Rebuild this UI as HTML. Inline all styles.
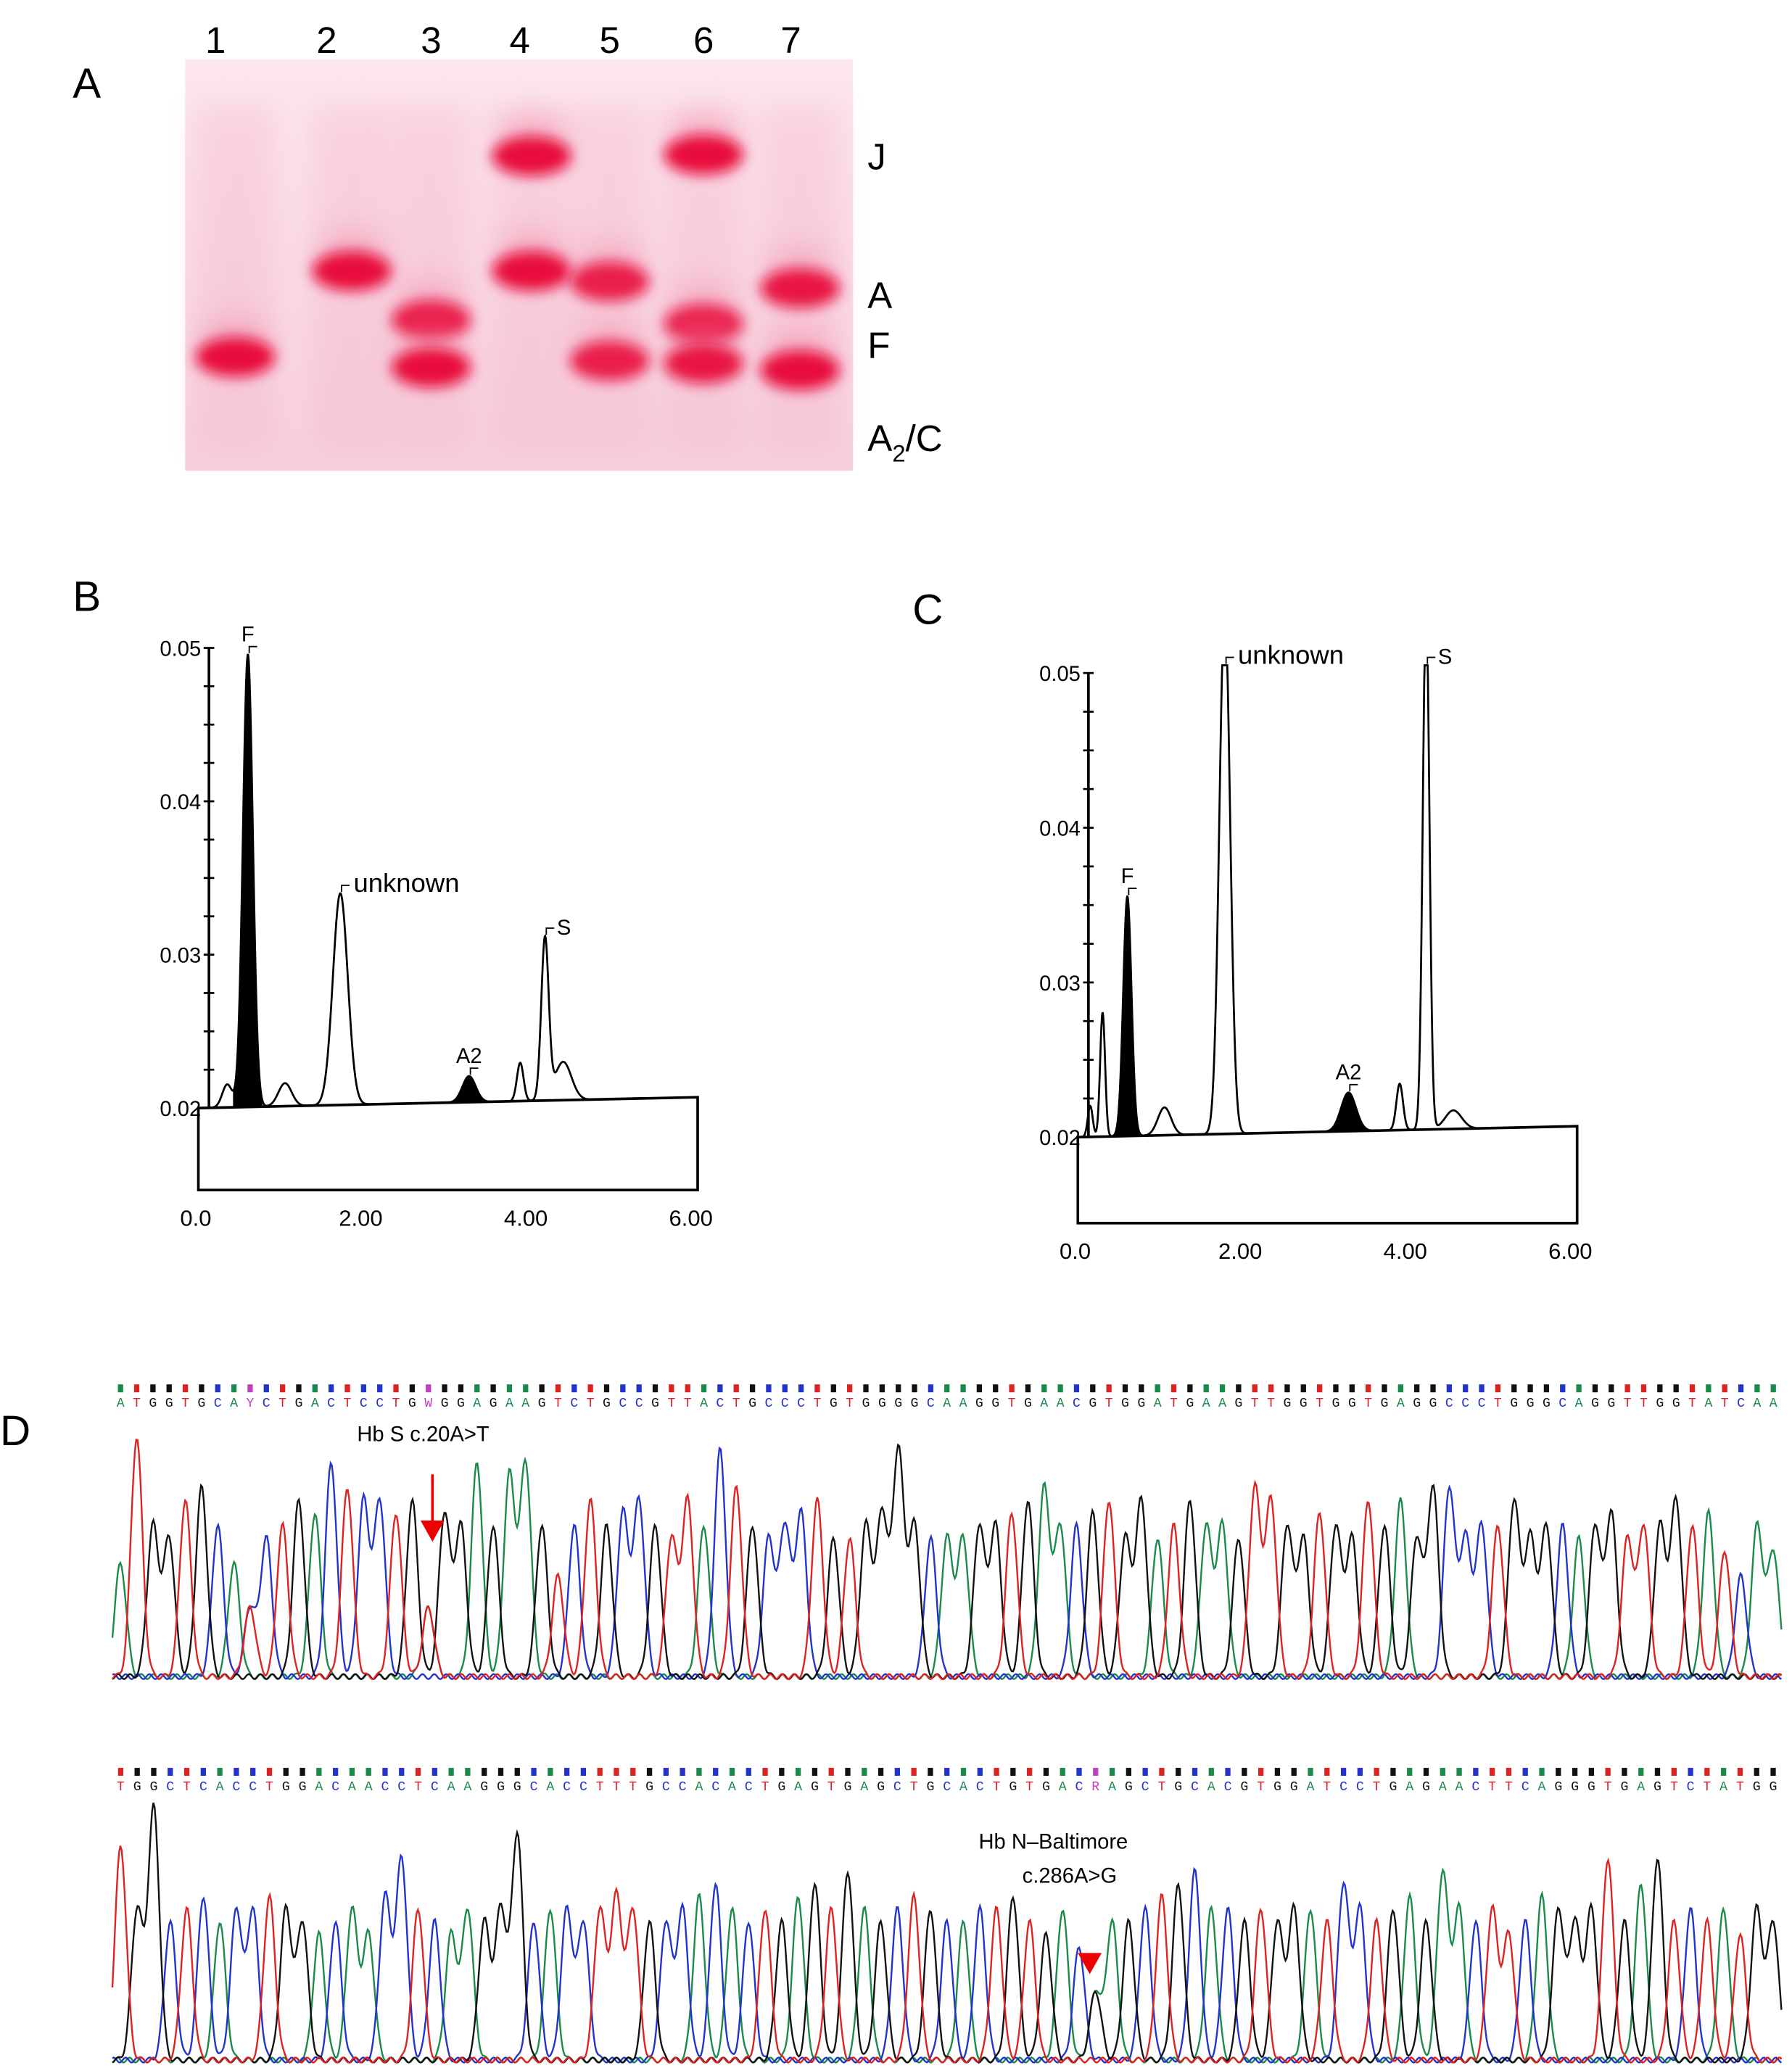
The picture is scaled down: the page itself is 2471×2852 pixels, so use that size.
<!DOCTYPE html>
<html><head><meta charset="utf-8"><style>
html,body{margin:0;padding:0;background:#fff}
svg{display:block;font-family:"Liberation Sans",sans-serif}
</style></head><body>
<svg id="fig" width="2471" height="2852" viewBox="0 0 1355 1564" preserveAspectRatio="none" xmlns="http://www.w3.org/2000/svg">
<defs>
<filter id="blur" x="-50%" y="-50%" width="200%" height="200%"><feGaussianBlur stdDeviation="5"/></filter>
<filter id="blur2" x="-50%" y="-50%" width="200%" height="200%"><feGaussianBlur stdDeviation="10"/></filter>
<linearGradient id="gelbg" x1="0" y1="0" x2="0" y2="1"><stop offset="0" stop-color="#fce6ee"/><stop offset="1" stop-color="#f7cfdd"/></linearGradient>
</defs>
<rect width="1355" height="1564" fill="#fff"/>
<!-- Panel A -->
<text x="55" y="74" font-size="32">A</text>
<g id="gel">
<rect x="140" y="45" width="505" height="311" fill="url(#gelbg)"/>
</g>
<g id="lanes" font-size="28" text-anchor="middle"></g>
<g font-size="28">
<text x="656" y="128">J</text>
<text x="656" y="233">A</text>
<text x="656" y="271">F</text>
<text x="656" y="341">A<tspan font-size="18" dy="8">2</tspan><tspan dy="-8">/C</tspan></text>
</g>
<!-- Panel B / C -->
<text x="55" y="462" font-size="32">B</text>
<text x="690" y="472" font-size="32">C</text>
<g id="chartB"></g>
<g id="chartC"></g>
<!-- Panel D -->
<text x="0" y="1093" font-size="32">D</text>
<g id="seq1"></g>
<g id="seq2"></g>
<g font-size="16">
<text x="270" y="1090">Hb  S  c.20A&gt;T</text>
<line x1="327" y1="1115" x2="327" y2="1150" stroke="#e00" stroke-width="2"/>
<polygon points="318,1150 336,1150 327,1166" fill="#e00"/>
<text x="740" y="1398">Hb  N–Baltimore</text>
<text x="773" y="1424">c.286A&gt;G</text>
<polygon points="815,1477 833,1477 824,1493" fill="#e00"/>
</g>
</svg>
<script>
const NS="http://www.w3.org/2000/svg";
function mk(tag,attrs,parent){const e=document.createElementNS(NS,tag);for(const k in attrs)e.setAttribute(k,attrs[k]);parent.appendChild(e);return e;}

// ---------- Gel data ----------
const laneNames=["1","2","3","4","5","6","7"];
const laneX=[178,266,326,402,461,532,605];
const laneLabelX=[163,247,326,393,461,532,598];
const bandLane=[0,1,2,2,3,3,4,4,5,5,5,6,6];
const bandY=[270,205,242,278,118,205,213,273,117,245,275,218,280];
const bandI=[1,1,0.9,1,1,1,0.9,0.9,1,0.9,0.95,0.95,1];
const gel=document.getElementById('gel');
const lanes=document.getElementById('lanes');
laneNames.forEach((n,i)=>{
  const t=mk('text',{x:laneLabelX[i],y:40},lanes);t.textContent=n;
  
  
  const s=mk('rect',{x:laneX[i]-30,y:80,width:60,height:260,fill:'#f3aec4',opacity:0.3,filter:'url(#blur2)'},gel);
  
  
});
bandY.forEach((y,i)=>{
  const x=laneX[bandLane[i]];
  const h=mk('ellipse',{cx:x,cy:y-14,rx:26,ry:18,fill:'#f07a9a',opacity:0.35*bandI[i],filter:'url(#blur2)'},gel);
  
  
  const b=mk('ellipse',{cx:x,cy:y,rx:30,ry:15,fill:'#e8103c',opacity:bandI[i],filter:'url(#blur)'},gel);
  
  
});

// ---------- Chromatograms ----------
const ticksX=[0,2,4,6];
const tickXLabels=["0.0","2.00","4.00","6.00"];
const ticksY=[0.02,0.03,0.04,0.05];
const tickYLabels=["0.02","0.03","0.04","0.05"];
const bPos=[0.35,0.6,1.05,1.72,3.28,3.9,4.2,4.42];
const bHeight=[0.0015,0.0295,0.0015,0.0138,0.0017,0.0025,0.0105,0.0025];
const bWidth=[0.06,0.06,0.08,0.09,0.08,0.04,0.045,0.1];
const bFilled=[0,1,0,0,1,0,0,0];
const bLabels=[["F",1],["unknown",3],["A2",4],["S",6]];
const cPos=[0.15,0.3,0.6,1.05,1.78,3.28,3.9,4.22,4.55];
const cHeight=[0.002,0.008,0.0155,0.0018,0.034,0.0025,0.003,0.034,0.0012];
const cWidth=[0.03,0.03,0.05,0.08,0.065,0.09,0.04,0.04,0.1];
const cFilled=[0,0,1,0,0,1,0,0,0];
const cLabels=[["F",2],["unknown",4],["A2",5],["S",7]];

function chrom(g,ox,sx,y02,sy,boxBottom,pos,hgt,wid,fill,labels,endT){
  const X=t=>ox+t*sx, Y=v=>y02-(v-0.02)*sy;
  const base=t=>0.02+0.0007*t/6;
  const f=t=>{let v=base(t);for(let i=0;i<pos.length;i++)v+=hgt[i]*Math.exp(-0.5*((t-pos[i])/wid[i])**2);return Math.min(v,0.0505);};
  pos.forEach((p,i)=>{ if(!fill[i])return;
    let pts=[];for(let t=p-3*wid[i];t<=p+3*wid[i];t+=0.005)pts.push(X(t)+','+Y(f(t)));
    pts.push(X(p+3*wid[i])+','+Y(base(p)));pts.push(X(p-3*wid[i])+','+Y(base(p)));
    const e=mk('polygon',{points:pts.join(' '),fill:'#000'},g);
    
    
  });
  let pts=[];for(let t=0.05;t<=endT;t+=0.004)pts.push(X(t)+','+Y(f(t)));
  const l=mk('polyline',{points:pts.join(' '),fill:'none',stroke:'#000','stroke-width':1.5},g);
  
  
  const bx=mk('polygon',{points:[X(0),Y(base(0)),X(6.05),Y(base(6.05)),X(6.05),boxBottom,X(0),boxBottom].join(' '),fill:'none',stroke:'#000','stroke-width':2},g);
  
  
  const ax=mk('line',{x1:X(0)+8,y1:Y(0.05),x2:X(0)+8,y2:Y(0.02),stroke:'#000','stroke-width':2},g);
  
  
  for(let v=0.02;v<=0.0501;v+=0.0025){mk('line',{x1:X(0)+4,y1:Y(v),x2:X(0)+12,y2:Y(v),stroke:'#000','stroke-width':1.5},g);}
  ticksY.forEach((v,i)=>{const t=mk('text',{x:X(0)+2,y:Y(v)+6,'font-size':16,'text-anchor':'end'},g);t.textContent=tickYLabels[i];
    
    });
  ticksX.forEach((v,i)=>{const t=mk('text',{x:X(v)-2,y:boxBottom+27,'font-size':17,'text-anchor':'middle'},g);t.textContent=tickXLabels[i];
    
    });
  labels.forEach(([s,i])=>{const p=pos[i];const top=Y(f(p));
    mk('polyline',{points:[X(p)+1,top-1,X(p)+1,top-6,X(p)+7,top-6].join(' '),fill:'none',stroke:'#000','stroke-width':1},g);
    const big=s.length>2;
    const dx=(s==='S')?9:(big?10:0);
    const t=mk('text',{x:X(p)+dx,y:top-(s==='S'?1:(big?1:10)),'font-size':big?20:16,'text-anchor':(s==='S'||big)?'start':'middle'},g);t.textContent=s;
    
    });
}
chrom(document.getElementById('chartB'),150,62.4,838,11600,900,bPos,bHeight,bWidth,bFilled,bLabels,5.7);
chrom(document.getElementById('chartC'),815,62.4,860,11700,925,cPos,cHeight,cWidth,cFilled,cLabels,5.7);

// ---------- Sequencing traces ----------
const seq1="ATGGTGCAYCTGACTCCTGWGGAGAAGTCTGCCGTTACTGCCCTGTGGGGCAAGGTGAACGTGGATGAAGTTGGTGGTGAGGCCCTGGGCAGGTTGGTATCAA";
const h1=[0.45,0.95,0.6,0.55,0.7,0.75,0.6,0.45,0.5,0.55,0.6,0.7,0.65,0.85,0.75,0.7,0.7,0.65,0.7,0.5,0.65,0.6,0.85,0.6,0.8,0.85,0.6,0.4,0.6,0.7,0.6,0.65,0.7,0.6,0.55,0.7,0.6,0.9,0.75,0.6,0.55,0.6,0.65,0.7,0.55,0.55,0.6,0.65,0.9,0.6,0.55,0.55,0.55,0.6,0.6,0.65,0.7,0.75,0.6,0.6,0.65,0.7,0.55,0.7,0.55,0.6,0.7,0.6,0.6,0.55,0.75,0.7,0.6,0.55,0.65,0.6,0.55,0.7,0.6,0.7,0.55,0.75,0.75,0.55,0.6,0.6,0.7,0.55,0.6,0.6,0.55,0.6,0.65,0.55,0.6,0.6,0.7,0.6,0.65,0.5,0.4,0.6,0.5];
const seq2="TGGCTCACCTGGACAACCTCAAGGGCACCTTTGCCACACTGAGTGAGCTGCACTGTGACRAGCTGCACGTGGATCCTGAGAACTTCAGGGTGAGTCTATGG";
const h2=[0.85,0.6,1.0,0.55,0.6,0.65,0.55,0.6,0.6,0.65,0.6,0.55,0.5,0.55,0.6,0.5,0.65,0.8,0.6,0.55,0.5,0.6,0.55,0.6,0.9,0.55,0.6,0.6,0.55,0.6,0.65,0.6,0.55,0.55,0.6,0.65,0.7,0.6,0.55,0.6,0.55,0.65,0.7,0.6,0.75,0.6,0.55,0.6,0.65,0.6,0.55,0.55,0.6,0.6,0.65,0.55,0.5,0.6,0.45,0.5,0.55,0.55,0.6,0.65,0.7,0.75,0.6,0.6,0.55,0.6,0.55,0.6,0.6,0.55,0.7,0.6,0.55,0.6,0.65,0.55,0.75,0.6,0.55,0.6,0.5,0.55,0.65,0.6,0.55,0.6,0.8,0.55,0.7,0.8,0.55,0.6,0.55,0.6,0.5,0.6,0.55];
const baseColor={A:'#1a8a4a',C:'#2233cc',G:'#111111',T:'#dd2222'};
const ambig={Y:['C','T'],W:['A','T'],R:['A','G']};
function trace(g,seq,h,x0,x1,yTop,baseline){
  const n=seq.length, step=(x1-x0)/n;
  for(let i=0;i<n;i++){const b=seq[i];const x=x0+step*(i+0.5);
    const col=baseColor[b]||'#c040c0';
    const sq=mk('rect',{x:x-2,y:yTop,width:4,height:6,fill:col},g);
    
    
    const t=mk('text',{x:x,y:yTop+17,'font-size':10,'text-anchor':'middle',fill:col,'font-family':'Liberation Mono, monospace'},g);t.textContent=b;
    
    }
  const H=baseline-(yTop+30);
  ['A','C','G','T'].forEach(ch=>{
    let pts=[];
    for(let x=x0;x<=x1;x+=1){
      let v=0;
      for(let i=0;i<n;i++){const b=seq[i];let w=0;
        if(b===ch)w=1;else if(ambig[b]&&ambig[b].includes(ch))w=0.55;
        if(!w)continue;const c=x0+step*(i+0.5);const d=x-c;if(Math.abs(d)>18)continue;
        v+=w*h[i]*Math.exp(-0.5*(d/4.3)**2);}
      v+=0.01*Math.sin(x*0.7+ch.charCodeAt(0));
      pts.push(x+','+(baseline-v*H).toFixed(1));
    }
    const p=mk('polyline',{points:pts.join(' '),fill:'none',stroke:baseColor[ch],'stroke-width':1.3},g);
    
    
  });
}
trace(document.getElementById('seq1'),seq1,h1,85,1347,1047,1268);
trace(document.getElementById('seq2'),seq2,h2,85,1347,1337,1558);
</script>
</body></html>
